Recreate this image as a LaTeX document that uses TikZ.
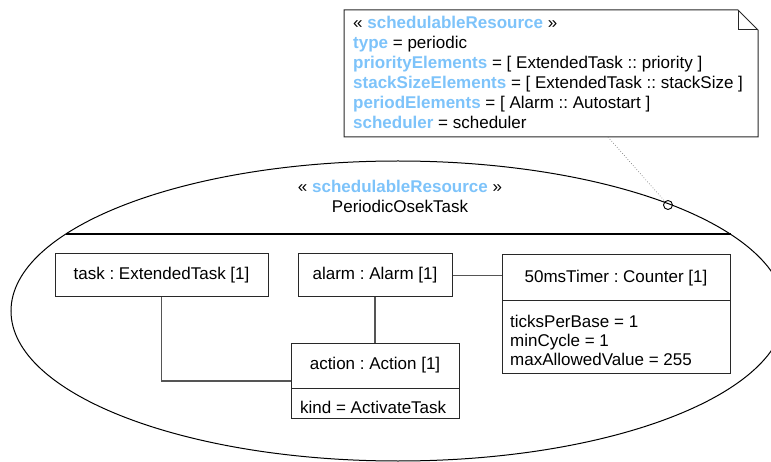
\documentclass[tikz,border=0pt]{standalone}
\usepackage{fontspec}
\setmainfont{Liberation Sans}
\usetikzlibrary{calc}
\definecolor{stereo}{RGB}{125,195,250}
\definecolor{boxline}{RGB}{40,40,40}
\definecolor{connline}{RGB}{85,85,85}
\tikzset{
  umlbox/.style={draw=boxline, line width=1pt, rectangle, inner sep=0pt, align=center},
  txt/.style={inner sep=0pt, anchor=base west},
  ctxt/.style={inner sep=0pt, anchor=base},
  conn/.style={draw=connline, line width=1.2pt},
  notelink/.style={draw=gray, dotted, line width=0.7pt},
  st/.style={text=stereo, font=\bfseries}
}
\frenchspacing
\begin{document}
\frenchspacing
\begin{tikzpicture}[x=1pt,y=-1pt,font=\fontsize{17}{20}\selectfont\frenchspacing]
\useasboundingbox (0,0) rectangle (771,462);
\clip (0,0) rectangle (771,462);
% ellipse (component)
\draw[black, line width=1pt] (398,311) ellipse [x radius=387, y radius=150];
\draw[black, line width=1.6pt] (66,234) -- (731,234);
\node[ctxt] (estereo) at (400,193) {« \textcolor{stereo}{\bfseries schedulableResource} »};
\node[ctxt] (ename) at (400,213) {PeriodicOsekTask};

% note
\draw[boxline, line width=1pt, fill=white] (344,10) -- (738,10) -- (758,30) -- (758,137) -- (344,137) -- cycle;
\draw[boxline, line width=1pt] (738,10) -- (738,30) -- (758,30);
\node[txt] (n1) at (353,29) {« \textcolor{stereo}{\bfseries schedulableResource} »};
\node[txt] (n2) at (353,49) {\textcolor{stereo}{\bfseries type} = periodic};
\node[txt] (n3) at (353,69) {\textcolor{stereo}{\bfseries priorityElements} = [ ExtendedTask :: priority ]};
\node[txt] (n4) at (353,89) {\textcolor{stereo}{\bfseries stackSizeElements} = [ ExtendedTask :: stackSize ]};
\node[txt] (n5) at (353,109) {\textcolor{stereo}{\bfseries periodElements} = [ Alarm :: Autostart ]};
\node[txt] (n6) at (353,129) {\textcolor{stereo}{\bfseries scheduler} = scheduler};
\coordinate (nb) at (608,137);
\node[circle, draw=black, line width=0.9pt, minimum size=9pt, inner sep=0pt] (pin) at (668,205) {};
\draw[notelink] (nb) -- (pin);

% parts
\node[umlbox, minimum width=213pt, minimum height=43pt] (task) at (161.5,275.5) {task : ExtendedTask [1]};
\node[umlbox, minimum width=154pt, minimum height=43pt] (alarm) at (375,275.5) {alarm : Alarm [1]};
\node[umlbox, minimum width=168pt, minimum height=45pt] (action) at (375,365.5) {action : Action [1]};
\node[umlbox, minimum width=168pt, minimum height=30pt] (actionattr) at (375,403) {};
\node[txt] (kind) at (300,413) {kind = ActivateTask};
\node[umlbox, minimum width=228pt, minimum height=46pt] (counter) at (616,278) {50msTimer : Counter [1]};
\node[umlbox, minimum width=228pt, minimum height=72pt] (counterattr) at (616,337) {};
\node[txt] (c1) at (510,327) {ticksPerBase = 1};
\node[txt] (c2) at (510,346) {minCycle = 1};
\node[txt] (c3) at (510,365) {maxAllowedValue = 255};

% connectors
\draw[conn] (task.south) |- (action.west |- 0,381);
\draw[conn] (alarm.south) -- (action.north);
\draw[conn] (alarm.east) -- (counter.west |- alarm.east);
\end{tikzpicture}
\end{document}
